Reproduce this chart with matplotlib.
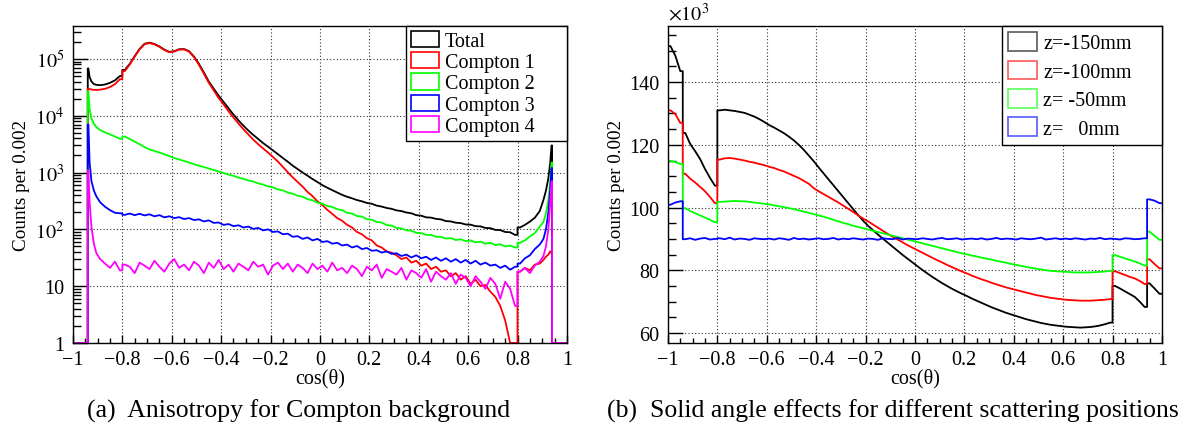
import numpy as np
import matplotlib
matplotlib.use("Agg")
import matplotlib.pyplot as plt
from matplotlib.patches import Patch
from matplotlib.ticker import FixedLocator, FixedFormatter, MultipleLocator, LogLocator, NullFormatter

plt.rcParams['font.family'] = ['Liberation Serif', 'DejaVu Serif']
plt.rcParams['mathtext.fontset'] = 'stix'

# ---------------- panel (a): Compton background, log scale ----------------
# bin edges of the histogram (finer bins close to the acceptance edges)
edges_a = ([-0.94, -0.935, -0.93, -0.92, -0.91]
           + [round(-0.90 + 0.02 * k, 2) for k in range(91)]
           + [0.91, 0.92, 0.93, 0.935, 0.94])

total = [68000, 48000, 40000, 36000, 35000,
         34500, 35500, 38000, 42000, 50000, 64000, 82000, 112000, 150000, 185000,
         193000, 183000, 166000, 146000, 133000, 137000, 148000, 149000, 137000, 110000,
         82000, 58000, 40000, 30000, 22500, 17500, 13500, 10500, 8300, 6700,
         5500, 4600, 3900, 3300, 2850, 2450, 2100, 1800, 1550, 1320,
         1150, 1000, 880, 770, 680, 600, 540, 490, 445, 405,
         375, 352, 328, 312, 292, 282, 262, 252, 238, 230,
         216, 210, 198, 192, 178, 174, 163, 161, 153, 150,
         140, 138, 131, 129, 122, 121, 114, 113, 106, 105,
         98, 97, 90, 89, 80, 108, 120, 137, 160, 210,
         330, 480, 800, 1500, 3000]

compton1 = [30000, 29500, 29000, 28500, 28500,
            28800, 29800, 32000, 36000, 44000, 61000, 80000, 110000, 148000, 182000,
            190000, 181000, 164000, 144000, 131000, 135000, 146000, 147000, 135000, 108000,
            79000, 55000, 38000, 28000, 20500, 15800, 12000, 9300, 7300, 5800,
            4700, 3800, 3150, 2650, 2250, 1880, 1560, 1260, 1010, 820,
            680, 565, 455, 385, 312, 268, 220, 188, 158, 142,
            120, 108, 90, 82, 70, 64, 52, 48, 41, 39,
            35, 30, 32, 26, 28, 23, 25, 20, 22, 18,
            19, 15, 17, 13, 15, 11, 13, 10, 10.5, 8,
            6.5, 4.5, 2.5, 0, 0, 18, 21, 19, 24, 25,
            29, 33, 36, 41, 38]

compton2 = [27000, 13000, 9000, 7200, 6300,
            5600, 5100, 4700, 4300, 3950, 4300, 3900, 3500, 3150, 2800,
            2550, 2400, 2250, 2100, 1950, 1800, 1700, 1600, 1500, 1400,
            1320, 1250, 1180, 1110, 1040, 985, 920, 875, 815, 775,
            725, 695, 645, 615, 570, 550, 505, 485, 445, 425,
            390, 375, 340, 325, 295, 283, 258, 248, 226, 218,
            196, 190, 172, 168, 151, 148, 135, 132, 119, 117,
            106, 104, 96, 95, 87, 86, 80, 80, 74, 74,
            69, 70, 65, 67, 62, 64, 59, 61, 56, 58,
            53, 55, 50, 52, 48, 58, 64, 75, 86, 112,
            135, 190, 330, 700, 1500]

compton3 = [7000, 1500, 700, 480, 380,
            300, 250, 218, 196, 192, 180, 190, 178, 188, 176,
            184, 170, 178, 163, 170, 158, 164, 152, 158, 146,
            150, 138, 144, 130, 132, 120, 124, 114, 118, 108,
            112, 102, 106, 96, 100, 90, 92, 82, 84, 74,
            76, 68, 72, 64, 68, 60, 62, 56, 58, 52,
            54, 48, 51, 45, 47, 42, 43, 39, 41, 37,
            38, 34, 36, 32, 35, 31, 33, 29, 32, 28,
            31, 27, 30, 26, 29, 25, 28, 24, 26, 23,
            24, 21, 23, 19.5, 22, 25, 31, 35, 45, 54,
            68, 100, 200, 500, 1200]

compton4 = [1100, 300, 110, 55, 38,
            30, 25, 21, 27, 19, 24, 22, 17, 26, 23,
            20, 28, 22, 18, 25, 30, 21, 24, 19, 27,
            23, 17, 26, 21, 29, 20, 24, 18, 25, 22,
            19, 27, 22, 24, 16, 23, 26, 20, 25, 18,
            24, 21, 17, 25, 20, 23, 18, 26, 19, 21,
            17, 23, 20, 15, 22, 19, 24, 14, 20, 18,
            16, 21, 13, 19, 17, 14, 20, 12, 18, 15,
            13, 17, 11, 16, 14, 10, 15, 12, 9, 14,
            11, 6, 12, 9, 4.5, 18, 21, 17, 23, 27,
            34, 50, 100, 300, 700]

names_a = ["Total", "Compton 1", "Compton 2", "Compton 3", "Compton 4"]
colors_a = ["#000000", "#ff0000", "#00ff00", "#0000ff", "#ff00ff"]

# ---------------- panel (b): solid angle, linear scale (x10^3) ----------------
edges_b = [round(-1 + 0.02 * k, 2) for k in range(101)]

z150 = [151.5, 148.4, 143.5, 123.8, 120.3, 118.0, 115.5, 112.3, 109.5, 107.0,
        131.0, 131.2, 131.0, 130.8, 130.5, 130.2, 129.6, 129.0, 128.2, 127.3,
        126.3, 125.5, 124.6, 123.7, 122.6, 121.4, 120.0, 118.4, 116.6, 114.8,
        112.8, 110.9, 109.0, 107.1, 105.2, 103.3, 101.4, 99.5, 97.6, 95.8,
        94.2, 92.8, 91.4, 90.1, 88.8, 87.5, 86.2, 84.9, 83.7, 82.5,
        81.3, 80.1, 79.0, 77.9, 76.9, 75.9, 75.0, 74.1, 73.3, 72.5,
        71.8, 71.0, 70.3, 69.6, 68.9, 68.2, 67.6, 67.0, 66.4, 65.9,
        65.4, 64.9, 64.4, 64.0, 63.6, 63.2, 62.9, 62.6, 62.4, 62.2,
        62.0, 61.9, 61.8, 61.7, 61.8, 61.9, 62.1, 62.4, 62.8, 63.3,
        75.0, 74.2, 73.3, 72.4, 71.5, 70.0, 68.3, 75.8, 74.2, 72.5]

z100 = [131.0, 129.8, 127.0, 110.8, 109.2, 108.0, 106.6, 105.2, 103.4, 101.4,
        115.3, 115.7, 115.8, 115.6, 115.3, 115.0, 114.6, 114.3, 113.9, 113.5,
        113.0, 112.6, 112.0, 111.5, 110.8, 110.1, 109.4, 108.5, 107.6, 106.2,
        105.2, 104.3, 103.4, 102.5, 101.6, 100.6, 99.6, 98.6, 97.5, 96.5,
        95.6, 94.6, 93.6, 92.6, 91.6, 90.7, 89.8, 88.9, 88.0, 87.2,
        86.4, 85.6, 84.8, 84.0, 83.2, 82.5, 81.7, 81.0, 80.3, 79.6,
        79.0, 78.3, 77.7, 77.1, 76.6, 76.0, 75.5, 75.0, 74.5, 74.1,
        73.7, 73.3, 72.9, 72.5, 72.1, 71.8, 71.5, 71.2, 71.0, 70.8,
        70.6, 70.5, 70.4, 70.3, 70.3, 70.3, 70.4, 70.5, 70.6, 70.8,
        79.7, 79.1, 78.5, 77.9, 77.4, 76.6, 75.6, 83.5, 82.0, 80.6]

z50 = [114.9, 114.5, 113.9, 99.8, 98.9, 98.2, 97.5, 96.8, 96.1, 95.3,
       101.8, 101.9, 102.0, 102.1, 102.0, 102.0, 101.8, 101.6, 101.4, 101.2,
       101.0, 100.7, 100.4, 100.1, 99.8, 99.5, 99.1, 98.7, 98.3, 97.9,
       97.5, 97.1, 96.6, 96.1, 95.6, 95.1, 94.7, 94.2, 93.8, 93.4,
       93.0, 92.6, 92.2, 91.8, 91.4, 91.0, 90.6, 90.2, 89.8, 89.4,
       89.0, 88.6, 88.2, 87.8, 87.4, 87.0, 86.6, 86.2, 85.8, 85.4,
       85.1, 84.7, 84.4, 84.0, 83.7, 83.4, 83.0, 82.7, 82.4, 82.0,
       81.7, 81.4, 81.1, 80.8, 80.5, 80.3, 80.0, 79.8, 79.7, 79.6,
       79.5, 79.4, 79.3, 79.3, 79.3, 79.3, 79.4, 79.5, 79.6, 79.8,
       84.8, 84.3, 83.8, 83.3, 82.8, 82.2, 81.5, 92.3, 91.0, 89.7]

z0 = [100.9, 101.6, 102.0, 89.9, 90.2, 89.7, 90.1, 90.3, 89.8, 90.0,
      90.2, 89.9, 90.4, 89.8, 90.1, 90.0, 89.7, 90.2, 90.0, 89.9,
      90.1, 89.8, 90.2, 90.0, 89.7, 90.3, 89.9, 90.1, 89.8, 90.0,
      90.2, 89.9, 90.0, 90.3, 89.8, 90.1, 89.9, 90.2, 90.0, 89.8,
      90.1, 90.0, 89.7, 90.2, 90.0, 89.9, 90.3, 89.8, 90.1, 90.0,
      89.9, 90.2, 90.0, 89.8, 90.1, 90.3, 89.9, 90.0, 90.2, 89.8,
      90.0, 90.1, 89.9, 90.2, 89.8, 90.0, 90.3, 89.9, 90.1, 90.0,
      89.8, 90.2, 90.0, 89.9, 90.1, 90.4, 89.8, 90.0, 90.2, 89.9,
      90.1, 89.9, 90.2, 90.0, 89.8, 90.1, 90.0, 90.3, 89.9, 90.1,
      90.0, 89.8, 90.2, 90.1, 89.9, 90.0, 90.2, 102.6, 102.2, 101.4]

names_b = ["z=-150mm", "z=-100mm", "z= -50mm", "z=   0mm"]
colors_b = ["#000000", "#ff0000", "#00ff00", "#0000ff"]

x_ticks = [-1, -0.8, -0.6, -0.4, -0.2, 0, 0.2, 0.4, 0.6, 0.8, 1]
x_tick_labels = ["\u22121", "\u22120.8", "\u22120.6", "\u22120.4", "\u22120.2", "0",
                 "0.2", "0.4", "0.6", "0.8", "1"]
log_ticks = [1, 10, 100, 1e3, 1e4, 1e5]
log_tick_labels = ["1", "10", r"$10^{2}$", r"$10^{3}$", r"$10^{4}$", r"$10^{5}$"]
lin_ticks = [60, 80, 100, 120, 140]


def trace(edges, vals, jumps, base=None):
    # line through bin centres, vertical at the acceptance steps
    centers = [(a + b) / 2 for a, b in zip(edges[:-1], edges[1:])]
    px, py = [], []
    if base is not None:
        px += [-1, edges[0]]
        py += [base, base]
    px.append(edges[0]); py.append(vals[0])
    for i in range(len(centers)):
        px.append(centers[i]); py.append(vals[i])
        if i + 1 < len(centers):
            for e in jumps:
                if centers[i] < e < centers[i + 1]:
                    px += [e, e]
                    py += [vals[i], vals[i + 1]]
    px.append(edges[-1]); py.append(vals[-1])
    if base is not None:
        px += [edges[-1], 1]
        py += [base, base]
    return px, py


def style_axes(ax):
    for s in ax.spines.values():
        s.set_linewidth(1.0)
        s.set_color("black")
    ax.set_xlim(-1, 1)
    ax.xaxis.set_major_locator(FixedLocator(x_ticks))
    ax.xaxis.set_major_formatter(FixedFormatter(x_tick_labels))
    ax.xaxis.set_minor_locator(MultipleLocator(0.05))
    ax.tick_params(axis="x", which="major", direction="in", length=6, width=1, pad=5, labelsize=14.5)
    ax.tick_params(axis="x", which="minor", direction="in", length=3.3, width=1)
    ax.tick_params(axis="y", which="major", direction="in", length=11, width=1, pad=6, labelsize=14.5)
    ax.tick_params(axis="y", which="minor", direction="in", length=5.5, width=1)
    ax.tick_params(top=False, right=False, which="both")
    ax.grid(True, which="major", linestyle=(0, (1, 2)), color="#333333", linewidth=0.8)
    ax.set_axisbelow(True)
    ax.set_xlabel("cos(\u03b8)", fontsize=14.5)
    ax.xaxis.set_label_coords(0.5, -0.078)
    ax.xaxis.label.set_va("top")
    ax.set_ylabel("Counts per 0.002", fontsize=13.8)
    ax.yaxis.set_label_coords(-0.086, 0.5)


fig = plt.figure(figsize=(11.9, 4.39), dpi=100)
ax1 = fig.add_axes([0.0613, 0.2164, 0.4151, 0.7221])
ax2 = fig.add_axes([0.5613, 0.2164, 0.4151, 0.7221])

# (a)
for vals, col in zip([total, compton1, compton2, compton3, compton4], colors_a):
    px, py = trace(edges_a, vals, [-0.8, 0.8], base=0)
    ax1.plot(px, np.clip(py, 1, None), color=col, lw=1.3)
ax1.set_yscale("log")
ax1.set_ylim(1, 3.8e5)
ax1.yaxis.set_major_locator(FixedLocator(log_ticks))
ax1.yaxis.set_major_formatter(FixedFormatter(log_tick_labels))
ax1.yaxis.set_minor_locator(LogLocator(base=10, subs=np.arange(2, 10)))
ax1.yaxis.set_minor_formatter(NullFormatter())
style_axes(ax1)

handles_a = [Patch(facecolor="none", edgecolor=c, lw=1.2) for c in colors_a]
leg1 = ax1.legend(handles_a, names_a, loc="upper left", bbox_to_anchor=(0.674, 1.0, 0.326, 0.0),
                  mode="expand", borderaxespad=0, fontsize=14.5, frameon=True, fancybox=False,
                  handlelength=1.4, handleheight=0.85, handletextpad=0.3, labelspacing=0.06,
                  borderpad=0.25)
leg1.get_frame().set_edgecolor("black")
leg1.get_frame().set_linewidth(1.0)
leg1.get_frame().set_alpha(1)

# (b)
for vals, col in zip([z150, z100, z50, z0], colors_b):
    px, py = trace(edges_b, vals, [-0.94, -0.8, 0.8, 0.94])
    ax2.plot(px, py, color=col, lw=1.3)
ax2.set_ylim(56.8, 157.9)
ax2.yaxis.set_major_locator(FixedLocator(lin_ticks))
ax2.yaxis.set_major_formatter(FixedFormatter([str(t) for t in lin_ticks]))
ax2.yaxis.set_minor_locator(MultipleLocator(5))
style_axes(ax2)
ax2.text(0.0, 1.005, r"$\times10^{3}$", transform=ax2.transAxes, ha="left", va="bottom", fontsize=14.5)

handles_b = [Patch(facecolor="none", edgecolor=c, lw=1.2, alpha=0.65) for c in colors_b]
leg2 = ax2.legend(handles_b, names_b, loc="upper left", bbox_to_anchor=(0.676, 1.0, 0.324, 0.0),
                  mode="expand", borderaxespad=0, fontsize=14.5, frameon=True, fancybox=False,
                  handlelength=1.45, handleheight=1.05, handletextpad=0.3, labelspacing=0.36,
                  borderpad=0.3)
leg2.get_frame().set_edgecolor("black")
leg2.get_frame().set_linewidth(1.0)
leg2.get_frame().set_alpha(1)

fig.text(0.251, 0.064, "(a)  Anisotropy for Compton background", ha="center", va="center", fontsize=18.5)
fig.text(0.750, 0.064, "(b)  Solid angle effects for different scattering positions", ha="center",
         va="center", fontsize=18.5)

fig.savefig("out.png", dpi=100)
